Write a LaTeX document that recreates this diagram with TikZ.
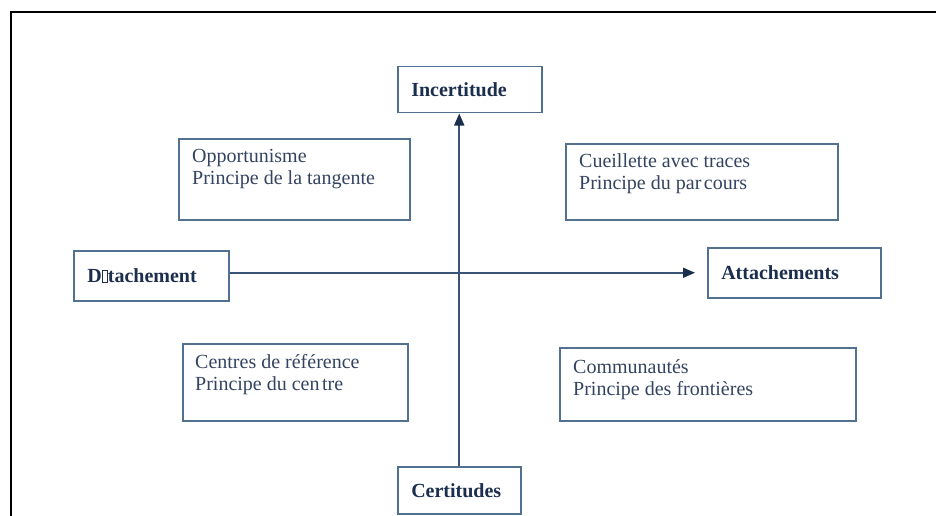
\documentclass[tikz,border=0pt]{standalone}
\usepackage{fontspec}
\setmainfont{Liberation Serif}
\usetikzlibrary{calc,positioning,arrows.meta}
\definecolor{navy}{HTML}{1C2E4E}
\definecolor{boxline}{HTML}{52708F}
\definecolor{axisline}{HTML}{3A5476}
\newcommand\tofubox{{\setlength{\fboxsep}{0pt}\setlength{\fboxrule}{0.6pt}\fbox{\rule{0pt}{12pt}\hspace{5pt}}}}

\begin{document}
\begin{tikzpicture}[x=1pt,y=-1pt,
  quad/.style 2 args={draw=boxline,line width=1.5pt,anchor=north west,inner sep=0pt,minimum width=#1,minimum height=#2},
  axe/.style 2 args={draw=boxline,line width=1.5pt,anchor=north west,inner xsep=13.5pt,inner ysep=0pt,text width=#1,minimum height=#2,
                     align=left,text=navy,font=\bfseries\fontsize{20}{22}\selectfont},
  txt/.style={anchor=north west,inner sep=0pt,align=left,text=navy!90,font=\fontsize{20}{22}\selectfont},
  conn/.style={draw=axisline,line width=1.7pt,-{Triangle[length=12pt,width=10pt,color=navy]}}]
\clip (0,0) rectangle (936,516);
\draw[line width=2pt] (11,12) rectangle (950,530);
% axes
\node[axe={117pt}{46pt}] (inc) at (397,66) {Incertitude};
\node[axe={96pt}{47pt}] (cert) at (397,466) {Certitudes};
\node[axe={128pt}{50pt}] (det) at (73,250) {D\tofubox tachement};
\node[axe={146pt}{50pt}] (att) at (707,247) {Attachements};
% quadrants
\node[quad={231pt}{81pt}] (oppbox) at (178,138) {};
\node[quad={272pt}{76pt}] (cuebox) at (565,143) {};
\node[quad={225pt}{77pt}] (cenbox) at (182,343) {};
\node[quad={296pt}{73pt}] (combox) at (559,347) {};
\node[txt] (opp) at ($(oppbox.north west)+(14,11.5)$) {Opportunisme\\Principe de la tangente};
\node[txt] (cue) at ($(cuebox.north west)+(14,10.5)$) {Cueillette avec traces\\Principe du par\hspace{2.5pt}cours};
\node[txt] (cen) at ($(cenbox.north west)+(13,11)$) {Centres de référence\\Principe du cen\hspace{2.5pt}tre};
\node[txt] (com) at ($(combox.north west)+(14,12)$) {Communautés\\Principe des frontières};
% arrows
\coordinate (attend) at ($(att.west)+(-12,0)$);
\draw[conn] (cert.north) -- (cert.north |- inc.south);
\draw[conn] (det.east |- attend) -- (attend);
\end{tikzpicture}
\end{document}
